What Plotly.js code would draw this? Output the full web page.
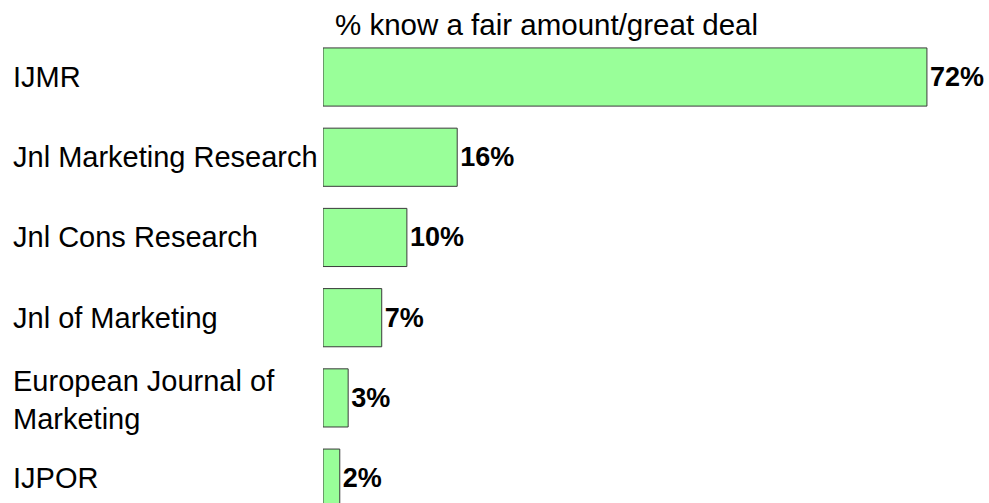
<!DOCTYPE html>
<html>
<head>
<meta charset="utf-8">
<script src="https://cdn.plot.ly/plotly-3.0.1.min.js"></script>
<style>html,body{margin:0;padding:0;background:#fff;}#chart{width:989px;height:503px;}</style>
</head>
<body>
<div id="chart"></div>
<script>
const chartTitle = "% know a fair amount/great deal";
const categories = ["IJMR", "Jnl Marketing Research", "Jnl Cons Research", "Jnl of Marketing", "European Journal of<br>Marketing", "IJPOR"];
const values = [72, 16, 10, 7, 3, 2];

const FONT = "Liberation Sans, Arial, sans-serif";

const trace = {
  type: "bar",
  orientation: "h",
  x: values,
  y: categories,
  marker: {color: "#99FF99", line: {color: "#3a3a3a", width: 1}},
  texttemplate: "%{x}%",
  textposition: "outside",
  constraintext: "none",
  cliponaxis: false,
  textfont: {family: FONT, size: 27, color: "#000", weight: "bold"},
  hoverinfo: "none"
};

// category labels, left aligned, drawn as annotations
const annotations = categories.map(c => ({
  xref: "paper", yref: "y",
  x: -312 / 666, y: c,
  xanchor: "left", yanchor: "middle", align: "left",
  text: c, showarrow: false,
  yshift: c.indexOf("<br>") >= 0 ? -2 : 0,
  font: {family: FONT, size: 29, color: "#000"}
}));

const layout = {
  width: 989, height: 503,
  margin: {l: 323, r: 0, t: 0, b: 0, pad: 0},
  paper_bgcolor: "#fff", plot_bgcolor: "#fff",
  showlegend: false,
  bargap: 0.275,
  title: {
    text: chartTitle,
    xref: "paper", x: 12 / 666, xanchor: "left",
    yref: "container", y: 1 - 25 / 503, yanchor: "middle",
    font: {family: FONT, size: 29.5, color: "#000"}
  },
  xaxis: {range: [0, 79.4], visible: false, fixedrange: true},
  yaxis: {type: "category", range: [5.31, -0.96], visible: false, fixedrange: true},
  annotations: annotations
};

Plotly.newPlot("chart", [trace], layout, {displayModeBar: false, staticPlot: true});
</script>
</body>
</html>
